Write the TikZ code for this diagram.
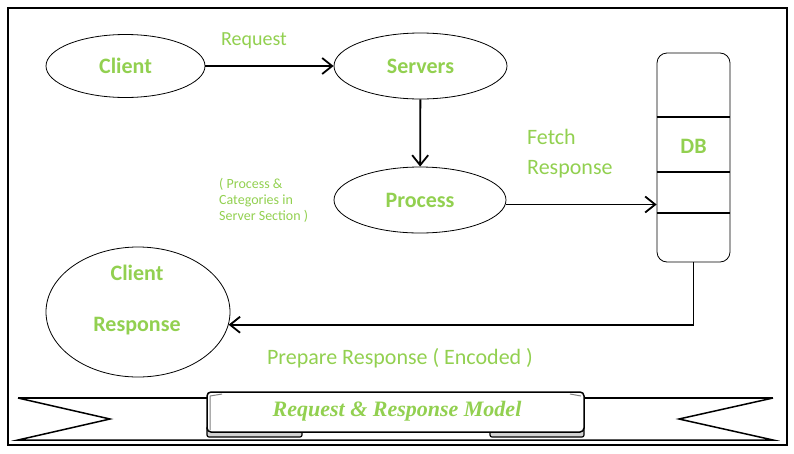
\documentclass[tikz,border=0pt]{standalone}
\usepackage{fontspec}
\setmainfont{Carlito}
\newfontfamily\bannerfont{Liberation Serif}
\usetikzlibrary{shapes.geometric,arrows.meta}
\definecolor{labelgreen}{HTML}{92D050}

\begin{document}
\begin{tikzpicture}[x=1pt,y=-1pt]
\useasboundingbox (0,0) rectangle (794,453);
\tikzset{VertexStyle/.style ={shape=ellipse, draw, line width=0.8pt, inner sep=0pt,
    text=labelgreen, font=\fontsize{22}{26}\selectfont\bfseries}}
\tikzset{EdgeStyle/.style ={line width=1.8pt, -{Straight Barb[length=10pt,width=16pt]}}}
\tikzset{TextStyle/.style ={inner sep=0pt, text=labelgreen, font=\fontsize{22}{30}\selectfont}}
\draw[line width=2pt] (8,8) rectangle (787,445);
\node[VertexStyle,minimum width=159pt,minimum height=63pt] (client) at (125.5,66) {Client};
\node[VertexStyle,minimum width=173pt,minimum height=66pt] (servers) at (420.5,66) {Servers};
\node[VertexStyle,minimum width=172pt,minimum height=66pt] (process) at (420,200) {Process};
\node[VertexStyle,minimum width=184pt,minimum height=130pt] (cresp) at (138,312) {};
\node[TextStyle,font=\fontsize{22}{51}\selectfont\bfseries,align=center] (cresplabel) at (137,300.5) {Client\\Response};
\node[draw,rounded corners=10pt,line width=0.8pt,minimum width=73pt,minimum height=209pt] (db) at (693.5,157.5) {};
\foreach \y in {117,172,213}
  \draw[line width=1.8pt] (db.west |- 0,\y) -- (db.east |- 0,\y);
\node[TextStyle,font=\fontsize{22}{26}\selectfont\bfseries] (dblabel) at (693.5,146) {DB};
\node[TextStyle,font=\fontsize{20}{24}\selectfont] (request) at (254,41) {Request};
\node[TextStyle,align=left,anchor=west] (fetch) at (527,154) {Fetch\\Response};
\node[TextStyle,font=\fontsize{14}{16}\selectfont,align=left,anchor=west] (note) at (219,200) {( Process \&\\Categories in\\Server Section )};
\node[TextStyle] (prepare) at (400,358) {Prepare Response ( Encoded )};
\draw[EdgeStyle] (client) -- (servers);
\draw[EdgeStyle] (servers) -- (process);
\draw[EdgeStyle] (process.-3) -- (process.-3 -| db.west);
\draw[EdgeStyle] (db.south) |- (cresp.-8);
% banner
\draw[line width=1.5pt] (18,398) -- (207,398) (584,398) -- (773,398);
\draw[line width=1.5pt] (18,398) -- (110,419) -- (18,440) -- (773,440) -- (679,419) -- (773,398);
\draw[line width=1.2pt,fill=gray!35,rounded corners=2pt] (207,426) rectangle (302,437);
\draw[line width=1.2pt,fill=gray!35,rounded corners=2pt] (490,426) rectangle (584,437);
\draw[line width=1.5pt,fill=white,rounded corners=4pt] (207,392) rectangle (584,432);
\draw[gray,line width=1pt] (210,430) -- (210,396) -- (222,394);
\draw[gray,line width=1pt] (570,394) -- (581,396);
\node[inner sep=0pt,text=labelgreen,font=\bannerfont\fontsize{22}{26}\selectfont\bfseries\itshape] (title) at (397,411) {Request \& Response Model};
\end{tikzpicture}
\end{document}
